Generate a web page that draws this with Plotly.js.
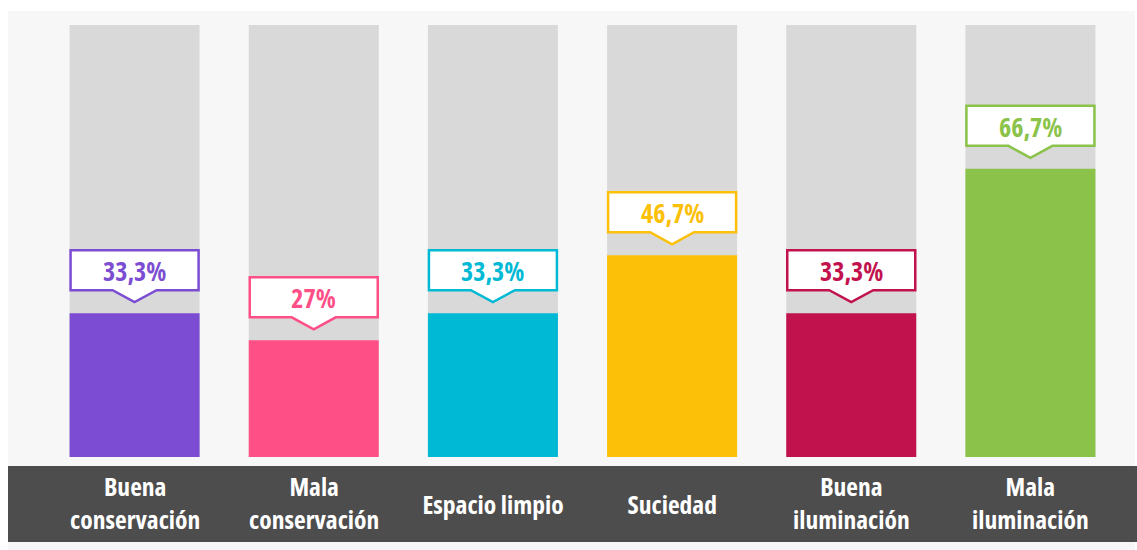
<!DOCTYPE html>
<html>
<head>
<meta charset="utf-8">
<script src="https://cdn.plot.ly/plotly-3.0.1.min.js"></script>
<style>
  html, body { margin: 0; padding: 0; background: #ffffff; }
  #chart { width: 1137px; height: 550px; }
  #chart svg text { font-stretch: 75% !important; }
</style>
</head>
<body>
<div id="chart"></div>
<script>
// ---- data ----
const categories = ['Buena conservación', 'Mala conservación', 'Espacio limpio', 'Suciedad', 'Buena iluminación', 'Mala iluminación'];
const tickLabels = [['Buena', 'conservación'], ['Mala', 'conservación'], ['Espacio limpio'], ['Suciedad'], ['Buena', 'iluminación'], ['Mala', 'iluminación']];
const values = [33.3, 27, 33.3, 46.7, 33.3, 66.7];
const maxValues = [100, 100, 100, 100, 100, 100];
const colors = ['#7C4DD3', '#FF4F87', '#00B9D4', '#FCC008', '#C2124D', '#8BC34A'];

// ---- layout geometry ----
const W = 1137, H = 550;
const M = { l: 45, r: 17, t: 25, b: 93 };
const pw = W - M.l - M.r, ph = H - M.t - M.b;
const px = x => (x - M.l) / pw;
const py = y => (H - M.b - y) / ph;
const FONT = '"Open Sans", Roboto, sans-serif';

const idx = categories.map((c, i) => i);

const traces = [
  {
    type: 'bar', x: idx, y: maxValues,
    marker: { color: '#D9D9D9' }, hoverinfo: 'skip', showlegend: false
  },
  {
    type: 'bar', x: idx, y: values,
    marker: { color: colors }, hoverinfo: 'skip', showlegend: false
  }
];

const shapes = [
  { type: 'rect', xref: 'paper', yref: 'paper', x0: px(8), x1: px(1135), y0: py(550), y1: py(11),
    fillcolor: '#F7F7F7', line: { width: 0 }, layer: 'below' },
  { type: 'rect', xref: 'paper', yref: 'paper', x0: px(8), x1: px(1137), y0: py(542), y1: py(466),
    fillcolor: '#4D4D4D', line: { width: 0 }, layer: 'below' }
];

const callout = 'M -64,63 L 64,63 L 64,23 L 22,23 L 0,11 L -22,23 L -64,23 Z';
values.forEach((v, i) => {
  shapes.push({
    type: 'path', xref: 'x', yref: 'y',
    xsizemode: 'pixel', ysizemode: 'pixel', xanchor: i, yanchor: v,
    path: callout, fillcolor: '#FFFFFF', line: { color: colors[i], width: 2.5 }, layer: 'above'
  });
});

const annotations = [];
values.forEach((v, i) => {
  annotations.push({
    x: i, y: v, xref: 'x', yref: 'y', yshift: 42,
    text: '<b>' + String(v).replace('.', ',') + '%</b>',
    showarrow: false, xanchor: 'center', yanchor: 'middle',
    font: { family: FONT, size: 26, color: colors[i] }
  });
});
tickLabels.forEach((lines, i) => {
  const center = lines.length === 1 ? 504 : 502;
  annotations.push({
    x: i, y: 0, xref: 'x', yref: 'paper', yshift: (H - M.b) - center,
    text: lines.map(t => '<b>' + t + '</b>').join('<br>'),
    showarrow: false, xanchor: 'center', yanchor: 'middle', align: 'center',
    font: { family: FONT, size: 25.5, color: '#FFFFFF' }
  });
});

const layout = {
  width: W, height: H,
  margin: M,
  paper_bgcolor: '#FFFFFF', plot_bgcolor: 'rgba(0,0,0,0)',
  barmode: 'overlay', bargap: 0.2744,
  xaxis: { type: 'linear', range: [-0.5, 5.5], showgrid: false, zeroline: false, showticklabels: false, ticks: '', fixedrange: true },
  yaxis: { range: [0, 100], showgrid: false, zeroline: false, showticklabels: false, ticks: '', fixedrange: true },
  shapes: shapes,
  annotations: annotations,
  font: { family: FONT }
};

Plotly.newPlot('chart', traces, layout, { displayModeBar: false, staticPlot: true });
</script>
</body>
</html>
